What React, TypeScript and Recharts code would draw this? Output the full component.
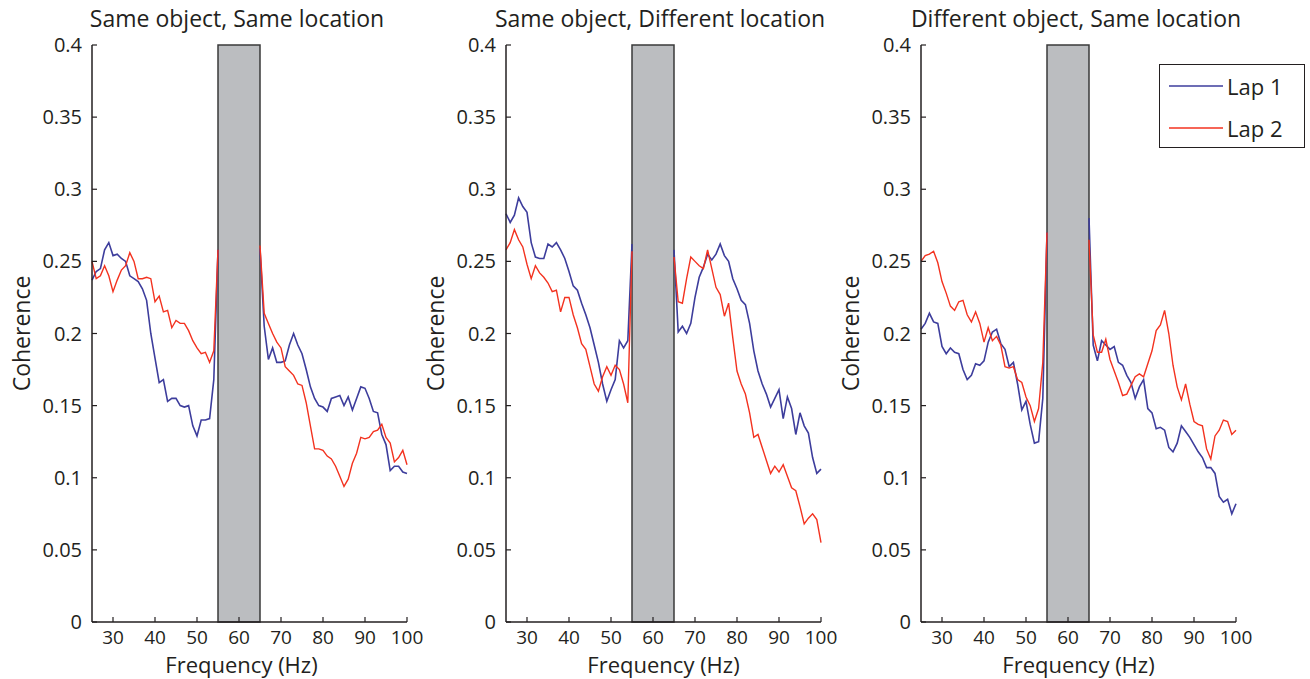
import { LineChart, Line, XAxis, YAxis, ReferenceArea, Legend } from "recharts";

const frequencies = [
  25, 26, 27, 28, 29, 30, 31, 32, 33, 34, 35, 36, 37, 38, 39, 40, 41, 42, 43, 44, 45, 46, 47, 48, 49, 50,
  51, 52, 53, 54, 55, 56, 57, 58, 59, 60, 61, 62, 63, 64, 65, 66, 67, 68, 69, 70, 71, 72, 73, 74, 75,
  76, 77, 78, 79, 80, 81, 82, 83, 84, 85, 86, 87, 88, 89, 90, 91, 92, 93, 94, 95, 96, 97, 98, 99, 100,
];

const xTicks = [30, 40, 50, 60, 70, 80, 90, 100];
const yTicks = [0, 0.05, 0.1, 0.15, 0.2, 0.25, 0.3, 0.35, 0.4];

// 56-64 Hz is masked by the grey band (line noise), so no values there
const sameSameLap1 = [
  0.237, 0.243, 0.245, 0.258, 0.263, 0.254, 0.255, 0.252, 0.25, 0.24, 0.238, 0.236, 0.231, 0.223, 0.2, 0.183,
  0.166, 0.168, 0.153, 0.155, 0.155, 0.15, 0.149, 0.15, 0.136, 0.129, 0.14, 0.14, 0.141, 0.168, 0.258,
  null, null, null, null, null, null, null, null, null,
  0.259, 0.205, 0.182, 0.19, 0.18, 0.18, 0.181, 0.192, 0.2, 0.192, 0.186, 0.175, 0.163, 0.155, 0.15, 0.149,
  0.146, 0.155, 0.156, 0.157, 0.15, 0.156, 0.147, 0.155, 0.163, 0.162, 0.155, 0.146, 0.145, 0.13, 0.123,
  0.105, 0.108, 0.108, 0.104, 0.103,
];
const sameSameLap2 = [
  0.25, 0.238, 0.24, 0.247, 0.24, 0.229, 0.237, 0.244, 0.247, 0.256, 0.25, 0.238, 0.238, 0.239, 0.238, 0.222,
  0.226, 0.215, 0.216, 0.204, 0.209, 0.207, 0.207, 0.202, 0.195, 0.19, 0.186, 0.187, 0.18, 0.188, 0.258,
  null, null, null, null, null, null, null, null, null,
  0.261, 0.214, 0.207, 0.2, 0.194, 0.19, 0.177, 0.174, 0.171, 0.165, 0.164, 0.152, 0.136, 0.12, 0.12, 0.119,
  0.115, 0.113, 0.108, 0.101, 0.094, 0.099, 0.11, 0.117, 0.128, 0.127, 0.128, 0.132, 0.133, 0.137, 0.128,
  0.124, 0.111, 0.114, 0.119, 0.109,
];

const sameDiffLap1 = [
  0.283, 0.277, 0.282, 0.294, 0.288, 0.284, 0.263, 0.253, 0.252, 0.252, 0.262, 0.26, 0.263, 0.258, 0.252, 0.243,
  0.233, 0.23, 0.221, 0.213, 0.204, 0.192, 0.18, 0.165, 0.153, 0.161, 0.168, 0.195, 0.19, 0.195, 0.262,
  null, null, null, null, null, null, null, null, null,
  0.258, 0.201, 0.205, 0.2, 0.207, 0.225, 0.239, 0.246, 0.255, 0.251, 0.255, 0.262, 0.254, 0.25, 0.238, 0.231,
  0.223, 0.22, 0.207, 0.188, 0.174, 0.165, 0.158, 0.149, 0.155, 0.161, 0.141, 0.156, 0.148, 0.13, 0.145,
  0.136, 0.131, 0.114, 0.103, 0.106,
];
const sameDiffLap2 = [
  0.258, 0.263, 0.272, 0.265, 0.26, 0.248, 0.238, 0.247, 0.242, 0.239, 0.235, 0.229, 0.23, 0.215, 0.225, 0.225,
  0.213, 0.204, 0.193, 0.189, 0.177, 0.165, 0.16, 0.17, 0.177, 0.171, 0.178, 0.175, 0.165, 0.152, 0.257,
  null, null, null, null, null, null, null, null, null,
  0.253, 0.222, 0.221, 0.238, 0.253, 0.25, 0.247, 0.245, 0.258, 0.245, 0.232, 0.227, 0.212, 0.221, 0.197, 0.174,
  0.165, 0.158, 0.145, 0.128, 0.13, 0.121, 0.112, 0.103, 0.108, 0.104, 0.109, 0.101, 0.093, 0.091, 0.08,
  0.068, 0.072, 0.075, 0.071, 0.055,
];

const diffSameLap1 = [
  0.203, 0.207, 0.214, 0.208, 0.207, 0.191, 0.186, 0.19, 0.187, 0.186, 0.175, 0.168, 0.171, 0.179, 0.178, 0.181,
  0.194, 0.201, 0.203, 0.193, 0.189, 0.177, 0.18, 0.165, 0.147, 0.153, 0.137, 0.124, 0.125, 0.155, 0.27,
  null, null, null, null, null, null, null, null, null,
  0.28, 0.192, 0.181, 0.195, 0.192, 0.189, 0.191, 0.18, 0.178, 0.171, 0.166, 0.155, 0.163, 0.168, 0.148, 0.145,
  0.134, 0.135, 0.133, 0.121, 0.118, 0.124, 0.136, 0.132, 0.128, 0.123, 0.118, 0.114, 0.107, 0.107, 0.103,
  0.087, 0.083, 0.085, 0.075, 0.082,
];
const diffSameLap2 = [
  0.25, 0.254, 0.255, 0.257, 0.249, 0.236, 0.228, 0.219, 0.216, 0.222, 0.223, 0.213, 0.208, 0.215, 0.207, 0.194,
  0.204, 0.195, 0.198, 0.192, 0.177, 0.176, 0.177, 0.168, 0.166, 0.156, 0.15, 0.139, 0.148, 0.18, 0.27,
  null, null, null, null, null, null, null, null, null,
  0.265, 0.199, 0.187, 0.187, 0.196, 0.182, 0.174, 0.166, 0.157, 0.158, 0.164, 0.17, 0.172, 0.17, 0.179, 0.188,
  0.202, 0.206, 0.216, 0.2, 0.178, 0.163, 0.154, 0.165, 0.151, 0.139, 0.137, 0.136, 0.12, 0.113, 0.129,
  0.133, 0.14, 0.139, 0.13, 0.133,
];

const ink = "#231f20";
const lap1Color = "#3d3d9c";
const lap2Color = "#f3321f";
const font = "'Open Sans', sans-serif";

interface PanelProps {
  title: string;
  lap1: (number | null)[];
  lap2: (number | null)[];
  left: number;
  width: number;
  titleCenter: number;
  labelShift?: number;
  showLegend?: boolean;
}

function LegendBox({ payload }: any) {
  return (
    <div style={{ width: 144, height: 82, border: `1px solid ${ink}`, background: "#fff", position: "relative" }}>
      {(payload ?? []).map((entry: any, i: number) => (
        <div key={entry.value} style={{ position: "absolute", left: 0, top: 21 + i * 42 - 12, height: 24, display: "flex", alignItems: "center" }}>
          <svg width={67} height={24}>
            <line x1={9} x2={63} y1={12} y2={12} stroke={entry.color} strokeWidth={1.5} />
          </svg>
          <span style={{ fontSize: 22, color: ink, fontFamily: font, lineHeight: "24px" }}>{entry.value}</span>
        </div>
      ))}
    </div>
  );
}

function Panel({ title, lap1, lap2, left, width, titleCenter, labelShift = 0, showLegend }: PanelProps) {
  const data = frequencies.map((f, i) => ({ f, lap1: lap1[i], lap2: lap2[i] }));
  return (
    <div style={{ position: "absolute", left, top: 0, width, height: 679 }}>
      <div
        style={{
          position: "absolute",
          left: titleCenter - 200,
          width: 400,
          top: 7,
          textAlign: "center",
          fontSize: 23,
          lineHeight: "23px",
          color: ink,
        }}
      >
        {title}
      </div>
      <LineChart width={width} height={679} data={data} margin={{ top: 45, right: width - 407, bottom: 0, left: 0 }}>
        <XAxis
          dataKey="f"
          type="number"
          domain={[25, 100]}
          ticks={xTicks}
          height={57}
          tickSize={-5}
          tickMargin={14}
          axisLine={{ stroke: ink, strokeWidth: 1.5 }}
          tickLine={{ stroke: ink, strokeWidth: 1.2 }}
          tick={{ fontSize: 19, fill: ink }}
          label={{ value: "Frequency (Hz)", position: "insideBottom", offset: 6, dx: labelShift, style: { fontSize: 22, fill: ink } }}
        />
        <YAxis
          width={92}
          domain={[0, 0.4]}
          ticks={yTicks}
          tickSize={-5}
          tickMargin={15}
          axisLine={{ stroke: ink, strokeWidth: 1.5 }}
          tickLine={{ stroke: ink, strokeWidth: 1.2 }}
          tick={{ fontSize: 20, fill: ink }}
          label={{ value: "Coherence", angle: -90, position: "center", dx: -24, style: { fontSize: 23, fill: ink } }}
        />
        <ReferenceArea x1={55} x2={65} y1={0} y2={0.4} fill="#bbbdc0" fillOpacity={1} stroke="#3a3a3a" strokeWidth={1.5} />
        <Line dataKey="lap1" name="Lap 1" stroke={lap1Color} strokeWidth={1.6} dot={false} isAnimationActive={false} />
        <Line dataKey="lap2" name="Lap 2" stroke={lap2Color} strokeWidth={1.4} dot={false} isAnimationActive={false} />
        {showLegend && (
          <Legend
            layout="vertical"
            align="center"
            verticalAlign="middle"
            content={LegendBox}
            wrapperStyle={{ left: 330, top: 64, width: 146, height: 84 }}
          />
        )}
      </LineChart>
    </div>
  );
}

export default function App() {
  return (
    <div style={{ position: "absolute", left: 0, top: 0, width: 1310, height: 679, background: "#fff", fontFamily: font }}>
      <Panel title="Same object, Same location" lap1={sameSameLap1} lap2={sameSameLap2} left={0} width={440} titleCenter={237} labelShift={-8} />
      <Panel title="Same object, Different location" lap1={sameDiffLap1} lap2={sameDiffLap2} left={414} width={440} titleCenter={246} />
      <Panel title="Different object, Same location" lap1={diffSameLap1} lap2={diffSameLap2} left={829} width={481} titleCenter={247} showLegend />
    </div>
  );
}
